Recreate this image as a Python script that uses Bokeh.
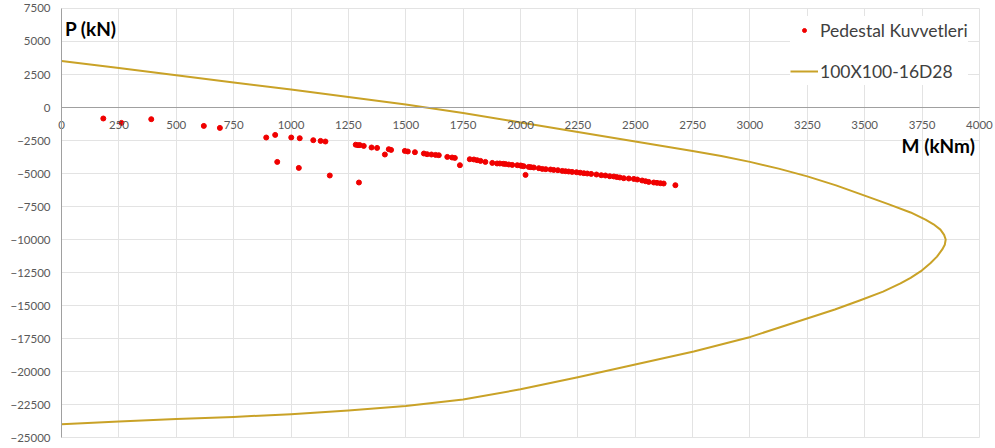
from bokeh.plotting import figure
from bokeh.models import Range1d, Label, Legend, LegendItem, ColumnDataSource
from bokeh.embed import file_html
from bokeh.resources import INLINE

# Pedestal forces (M in kNm, P in kN)
pedestal_m = [182, 261, 391, 620, 690,
              892, 931, 1001, 1038, 1097, 1129, 1150,
              940, 1034, 1169, 1296,
              1282, 1292, 1300, 1317, 1351, 1375, 1409, 1426, 1436,
              1496, 1509, 1540, 1579, 1593, 1612, 1630, 1644,
              1681, 1702, 1714, 1736,
              1779, 1797, 1811, 1826, 1847, 1877, 1898, 1910, 1925, 1935,
              1949, 1964, 1986, 2000, 2005, 2014, 2022, 2036, 2045, 2058,
              2080, 2095, 2110, 2131, 2145, 2163, 2182, 2196, 2210, 2225,
              2244, 2260, 2276, 2291, 2308, 2331, 2352, 2370, 2389, 2407,
              2420, 2433, 2450, 2472, 2494, 2509, 2530, 2545, 2559, 2581,
              2595, 2610, 2624, 2675]
pedestal_p = [-833, -1167, -886, -1394, -1545,
              -2273, -2076, -2273, -2326, -2477, -2530, -2576,
              -4121, -4576, -5152, -5682,
              -2820, -2856, -2850, -2909, -3030, -3061, -3561, -3159, -3212,
              -3288, -3333, -3386, -3485, -3538, -3561, -3591, -3614,
              -3742, -3788, -3818, -4371,
              -3917, -3939, -3992, -4045, -4121, -4197, -4242, -4242, -4265, -4285,
              -4318, -4348, -4371, -4394, -4420, -4447, -5106, -4500, -4520, -4545,
              -4598, -4652, -4670, -4697, -4727, -4750, -4803, -4826, -4850, -4879,
              -4902, -4940, -4977, -5000, -5030, -5076, -5129, -5152, -5205, -5227,
              -5270, -5303, -5356, -5379, -5409, -5455, -5530, -5583, -5636, -5682,
              -5710, -5735, -5758, -5886]

# Interaction diagram 100X100-16D28
curve_m = [0, 250, 500, 750, 1000, 1250, 1500, 1750, 2000, 2250, 2500, 2750,
           2875, 3000, 3125, 3250, 3375, 3500, 3600, 3700, 3765, 3800, 3830, 3846,
           3853, 3849, 3838, 3815, 3786, 3745, 3700, 3656, 3580, 3481, 3370,
           3249, 3002, 2755, 2500, 2250, 2000, 1750,
           1500, 1250, 1000, 750, 500, 250, 0]
curve_p = [3530, 3000, 2450, 1900, 1360, 800, 220, -420, -1130, -1850, -2580, -3300,
           -3680, -4120, -4630, -5220, -5900, -6680, -7300, -7950, -8500, -8850, -9250, -9650,
           -10000, -10400, -10750, -11300, -11800, -12400, -12900, -13330, -13950, -14600, -15300,
           -15990, -17380, -18480, -19470, -20430, -21350, -22120,
           -22606, -22950, -23230, -23440, -23600, -23780, -24000]

x_ticks = [0, 250, 500, 750, 1000, 1250, 1500, 1750, 2000, 2250, 2500, 2750,
           3000, 3250, 3500, 3750, 4000]
y_ticks = [-25000, -22500, -20000, -17500, -15000, -12500, -10000, -7500,
           -5000, -2500, 0, 2500, 5000, 7500]

FONT = "Lato"

p = figure(width=995, height=448, output_backend="svg", toolbar_location=None,
           x_range=Range1d(-266, 4070), y_range=Range1d(-25833, 8106),
           min_border_left=0, min_border_right=0, min_border_top=0,
           min_border_bottom=0)
p.outline_line_color = None
p.background_fill_color = "white"
p.border_fill_color = "white"

p.xaxis.fixed_location = 0
p.yaxis.fixed_location = 0
p.xaxis.bounds = (0, 4000)
p.yaxis.bounds = (-25000, 7500)
p.xaxis.ticker = x_ticks
p.yaxis.ticker = y_ticks
for ax in (p.xaxis, p.yaxis):
    ax.axis_line_color = "#A0A0A0"
    ax.axis_line_width = 1
    ax.major_tick_line_color = None
    ax.minor_tick_line_color = None
    ax.major_tick_out = 0
    ax.major_tick_in = 0
    ax.minor_tick_out = 0
    ax.minor_tick_in = 0
    ax.major_label_text_font = FONT
    ax.major_label_text_font_size = "11.5px"
    ax.major_label_text_color = "#595959"
p.xaxis.major_label_standoff = 13
p.yaxis.major_label_standoff = 11

p.xgrid.grid_line_color = "#E3E3E3"
p.ygrid.grid_line_color = "#E3E3E3"
p.xgrid.cross_bounds = (-25000, 7500)
p.ygrid.cross_bounds = (0, 4000)

src_c = ColumnDataSource(dict(m=curve_m, p=curve_p))
src_s = ColumnDataSource(dict(m=pedestal_m, p=pedestal_p))

ln = p.line("m", "p", source=src_c, line_color="#C9A227", line_width=2,
            line_join="round")
sc = p.scatter("m", "p", source=src_s, size=5, fill_color="#F00000",
               line_color="#F00000")

legend = Legend(items=[LegendItem(label="Pedestal Kuvvetleri", renderers=[sc]),
                       LegendItem(label="100X100-16D28", renderers=[ln])],
                location=(790, 363), margin=0, padding=10, spacing=13,
                glyph_height=10, glyph_width=28, label_height=28,
                label_standoff=2, label_text_font=FONT,
                label_text_font_size="17.5px", label_text_color="#404040",
                border_line_color=None, background_fill_color="white",
                background_fill_alpha=1.0)
p.add_layout(legend)

p.add_layout(Label(x=15, y=6000, text="P (kN)", text_font=FONT,
                   text_font_style="bold", text_font_size="19px",
                   text_color="black", text_align="left",
                   text_baseline="middle"))
p.add_layout(Label(x=3980, y=-2860, text="M (kNm)", text_font=FONT,
                   text_font_style="bold", text_font_size="19px",
                   text_color="black", text_align="right",
                   text_baseline="middle"))

open("out.html", "w").write(file_html(p, INLINE))
